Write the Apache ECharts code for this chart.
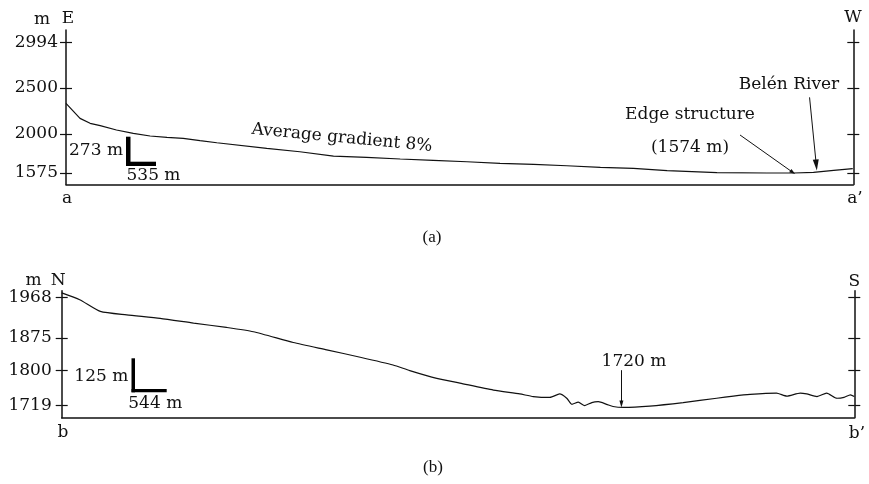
<!DOCTYPE html>
<html>
<head>
<meta charset="utf-8">
<script src="https://cdn.jsdelivr.net/npm/echarts@6/dist/echarts.min.js"></script>
<style>
html,body{margin:0;padding:0;background:#fff;}
#chart{width:869px;height:484px;}
</style>
</head>
<body>
<div id="chart"></div>
<script>
// ---- Profile (a): E -> W, distance in km, elevation in m ----
const aDist = [0,0.25,0.43,0.61,0.90,1.20,1.50,1.80,2.09,2.39,2.69,3.58,4.17,4.77,5.36,5.96,6.55,7.15,7.74,8.34,8.93,9.53,10.12,10.72,11.61,12.50,12.98,13.33,13.69,14.03];
const aElev = [2332,2169,2115,2089,2042,2006,1977,1963,1952,1926,1904,1843,1806,1759,1745,1727,1713,1697,1680,1669,1654,1637,1626,1600,1578,1575,1575,1582,1604,1622];
const aTicks = [1575,2000,2500,2994];

// ---- Profile (b): N -> S ----
const bDist = [0,0.28,0.60,1.01,1.53,2.05,2.56,2.98,3.60,4.12,4.64,5.15,5.41,5.83,6.19,6.71,7.12,7.33,7.59,7.74,7.85,7.93,8.03,8.13,8.24,8.34,8.47,8.57,8.73,9.14,9.66,10.18,10.44,10.70,11.11,11.27,11.48,11.58,11.74,11.89,12.05,12.16,12.26,12.32];
const bElev = [1979,1963,1936,1928,1920,1909,1899,1889,1864,1847,1830,1812,1799,1781,1770,1754,1745,1739,1737,1745,1735,1721,1726,1718,1725,1727,1721,1716,1714,1717,1725,1735,1740,1744,1747,1740,1747,1745,1739,1747,1735,1737,1743,1739];
const bTicks = [1719,1800,1875,1968];

const FONT = '"DejaVu Serif", "Liberation Serif", serif';
const INK = '#111';

function pairs(xs, ys){ return xs.map((x,i)=>[x, ys[i]]); }

function yAxes(grid, min, max, ticks, labelMargin){
  const base = {type:'value', gridIndex:grid, min:min, max:max, splitLine:{show:false}};
  return [
    Object.assign({}, base, {position:'left',
      axisLine:{show:true, onZero:false, lineStyle:{color:INK, width:1.5}},
      axisTick:{show:true, inside:false, length:6, customValues:ticks, lineStyle:{color:INK,width:1.2}},
      axisLabel:{show:true, customValues:ticks, margin:labelMargin, color:INK, fontFamily:FONT, fontSize:17,
        formatter:function(v){ return String(v); }}}),
    Object.assign({}, base, {position:'left',
      axisLine:{show:false, onZero:false},
      axisTick:{show:true, inside:true, length:6, customValues:ticks, lineStyle:{color:INK,width:1.2}},
      axisLabel:{show:false}}),
    Object.assign({}, base, {position:'right',
      axisLine:{show:true, onZero:false, lineStyle:{color:INK, width:1.5}},
      axisTick:{show:true, inside:false, length:6, customValues:ticks, lineStyle:{color:INK,width:1.2}},
      axisLabel:{show:false}}),
    Object.assign({}, base, {position:'right',
      axisLine:{show:false, onZero:false},
      axisTick:{show:true, inside:true, length:6, customValues:ticks, lineStyle:{color:INK,width:1.2}},
      axisLabel:{show:false}})
  ];
}

function xAxis(grid, max){
  return {type:'value', gridIndex:grid, min:0, max:max, position:'bottom',
    axisLine:{show:true, onZero:false, lineStyle:{color:INK, width:1.5}},
    axisTick:{show:false}, axisLabel:{show:false}, splitLine:{show:false}};
}

function arrow(from, to, size){
  return [{coord:from, symbol:'none'}, {coord:to, symbol:'triangle', symbolSize:size, symbolRotate:null}];
}

function txt(text, x, y, align, extra){
  return Object.assign({type:'text', x:x, y:y, silent:true,
    style:{text:text, font:'17px ' + FONT, fill:INK, align:align||'center', verticalAlign:'middle'}}, extra||{});
}

const chart = echarts.init(document.getElementById('chart'), null, {renderer:'canvas'});
const option = {
  backgroundColor:'#ffffff',
  animation:false,
  grid:[
    {left:66, top:30, width:787.3, height:154.5, outerBoundsMode:'none'},
    {left:61.7, top:290.7, width:792.6, height:127, outerBoundsMode:'none'}
  ],
  xAxis:[xAxis(0, 14.04), xAxis(1, 12.32)],
  yAxis:[].concat(yAxes(0, 1450, 3129, aTicks, 8), yAxes(1, 1690, 1984, bTicks, 10)),
  series:[
    {type:'line', xAxisIndex:0, yAxisIndex:0, data:pairs(aDist, aElev), showSymbol:false, silent:true,
      lineStyle:{color:INK, width:1.2},
      markLine:{silent:true, animation:false, label:{show:false}, lineStyle:{color:INK, width:1, type:'solid'},
        emphasis:{disabled:true},
        data:[arrow([12.02,1988],[12.96,1582],[4,6]), arrow([13.26,2397],[13.38,1662],[6,11])]}},
    {type:'line', xAxisIndex:1, yAxisIndex:4, data:pairs(bDist, bElev), showSymbol:false, silent:true,
      smooth:0.2, lineStyle:{color:INK, width:1.2},
      markLine:{silent:true, animation:false, label:{show:false}, lineStyle:{color:INK, width:1, type:'solid'},
        emphasis:{disabled:true},
        data:[arrow([8.70,1800],[8.70,1722],[4,7])]}}
  ],
  graphic:[
    // panel (a)
    txt('m', 42, 20), txt('E', 68, 19), txt('W', 853, 18),
    txt('a', 67, 199), txt('a\u2019', 855, 199),
    txt('273 m', 123, 151, 'right'), txt('535 m', 126.5, 176, 'left'),
    {type:'rect', shape:{x:126, y:136.7, width:4.5, height:29.3}, style:{fill:'#000'}, silent:true},
    {type:'rect', shape:{x:126, y:161.7, width:30, height:4.3}, style:{fill:'#000'}, silent:true},
    txt('Average gradient 8%', 342, 138, 'center', {rotation:-0.095}),
    txt('Edge structure', 690, 115), txt('(1574 m)', 690, 148),
    txt('Bel\u00e9n River', 789, 85),
    // panel (b)
    txt('m', 33.5, 281), txt('N', 58.3, 281), txt('S', 854.3, 281.5),
    txt('b', 63, 433), txt('b\u2019', 857, 434),
    txt('125 m', 128.3, 376.5, 'right'), txt('544 m', 128.3, 404, 'left'),
    {type:'rect', shape:{x:131.5, y:358.3, width:3.5, height:34}, style:{fill:'#000'}, silent:true},
    {type:'rect', shape:{x:131.5, y:389, width:35.2, height:3.3}, style:{fill:'#000'}, silent:true},
    txt('1720 m', 634, 361.5),
    // captions
    {type:'text', x:432, y:238, silent:true, style:{text:'(a)', font:'17px "Liberation Serif", serif', fill:INK, align:'center', verticalAlign:'middle'}},
    {type:'text', x:433, y:468, silent:true, style:{text:'(b)', font:'17px "Liberation Serif", serif', fill:INK, align:'center', verticalAlign:'middle'}}
  ]
};
chart.setOption(option);
</script>
</body>
</html>
